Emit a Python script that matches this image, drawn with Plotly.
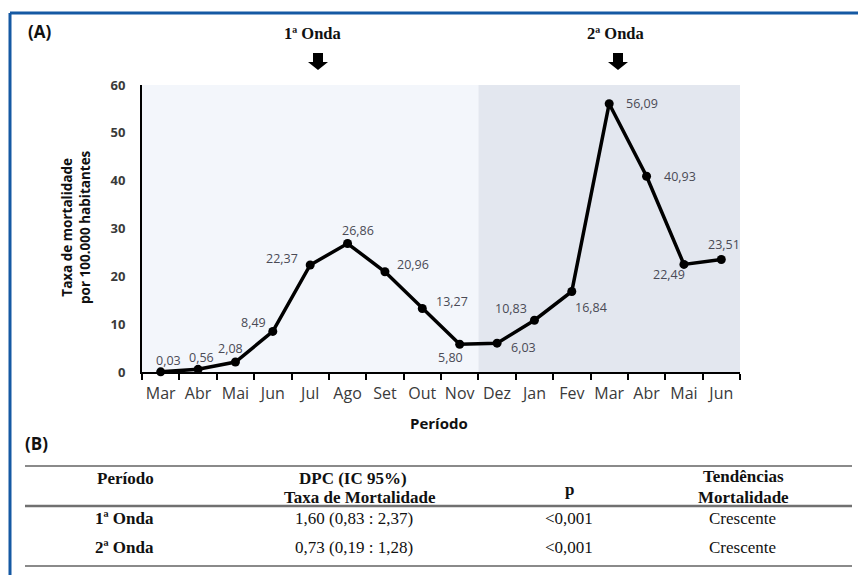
import plotly.graph_objects as go

# Monthly mortality rate per 100,000 inhabitants (Mar/2020 - Jun/2021)
months = ["Mar", "Abr", "Mai", "Jun", "Jul", "Ago", "Set", "Out", "Nov",
          "Dez", "Jan", "Fev", "Mar", "Abr", "Mai", "Jun"]
rates = [0.03, 0.56, 2.08, 8.49, 22.37, 26.86, 20.96, 13.27, 5.80,
         6.03, 10.83, 16.84, 56.09, 40.93, 22.49, 23.51]

# Pixel offsets of each value label relative to its point (dx right, dy down)
label_offsets = [(8, -11), (3, -12), (-5, -14), (-19, -9), (-28, -7), (10, -13),
                 (28, -7), (30, -7), (-9, 13), (26, 4), (-23, -12), (19, 16),
                 (33, 0), (33, 0), (-15, 10), (3, -15)]

# Trend table (joinpoint results)
table_header = ["Período", "DPC (IC 95%)", "p", "Tendências"]
waves = ["1ª Onda", "2ª Onda"]
dpc = ["1,60 (0,83 : 2,37)", "0,73 (0,19 : 1,28)"]
pvals = ["<0,001", "<0,001"]
trends = ["Crescente", "Crescente"]

W, H = 858, 575
L, R, T, B = 142, 740, 85, 372  # plot area in pixels


def px(x):
    return (x - L) / (R - L)


def py(y):
    return (B - y) / (B - T)


xs = list(range(len(months)))
first_wave_end = 8.5

fig = go.Figure()
fig.add_trace(go.Scatter(
    x=xs, y=rates, mode="lines+markers",
    line=dict(color="black", width=3.5),
    marker=dict(color="black", size=9),
    cliponaxis=False, hoverinfo="skip", showlegend=False,
))

shapes = [
    dict(type="rect", xref="x", yref="y", x0=-0.5, x1=first_wave_end, y0=0, y1=60,
         fillcolor="#f3f6fb", line=dict(width=0), layer="below"),
    dict(type="rect", xref="x", yref="y", x0=first_wave_end, x1=len(months) - 0.5, y0=0, y1=60,
         fillcolor="#e3e7ef", line=dict(width=0), layer="below"),
    # outer blue frame (top and left edges)
    dict(type="line", xref="paper", yref="paper", x0=px(10), x1=px(W + 5), y0=py(13), y1=py(13),
         line=dict(color="#1559a3", width=3)),
    dict(type="line", xref="paper", yref="paper", x0=px(10), x1=px(10), y0=py(13), y1=py(H + 5),
         line=dict(color="#1559a3", width=3)),
]

# table rules
for yy, w, c in [(466, 2, "#8a8a8a"), (506, 2.5, "#707070"), (566, 2, "#8a8a8a")]:
    shapes.append(dict(type="line", xref="paper", yref="paper", x0=px(25), x1=px(852),
                       y0=py(yy), y1=py(yy), line=dict(color=c, width=w)))

# down arrows marking the two waves
for xa in [318, 618]:
    shapes.append(dict(type="path", xref="paper", yref="paper",
                       xsizemode="pixel", ysizemode="pixel",
                       xanchor=px(xa), yanchor=py(53),
                       path="M -5,0 L 5,0 L 5,-9 L 10,-9 L 0,-17 L -10,-9 L -5,-9 Z",
                       fillcolor="black", line=dict(width=0)))

annotations = []
label_font = dict(family="Open Sans", size=12.5, color="#4a4a55")
for x, v, (dx, dy) in zip(xs, rates, label_offsets):
    annotations.append(dict(x=x, y=v, xref="x", yref="y", text=f"{v:.2f}".replace(".", ","),
                            showarrow=False, xshift=dx, yshift=-dy, font=label_font))


def note(x, y, text, font, **kw):
    annotations.append(dict(x=px(x), y=py(y), xref="paper", yref="paper", text=text,
                            showarrow=False, font=font, xanchor="center", yanchor="middle", **kw))


panel_font = dict(family="Open Sans", size=17, color="#111111", weight="bold")
serif_bold = dict(family="Liberation Serif", size=16.5, color="#111111", weight="bold")

note(39, 32, "(A)", panel_font)
note(36, 443, "(B)", panel_font)
note(312, 34, "1ª Onda", serif_bold)
note(615, 34, "2ª Onda", serif_bold)
note(439, 423, "Período", dict(family="Open Sans", size=15, color="#111111", weight="bold"))
note(76, 227, "Taxa de mortalidade<br>por 100.000 habitantes",
     dict(family="Open Sans", size=13.5, color="#111111", weight="bold"), textangle=-90)

# table header
th = dict(family="Liberation Serif", size=17, color="#111111", weight="bold")
tb = dict(family="Liberation Serif", size=17, color="#111111")
note(125, 478, table_header[0], th)
note(353, 478, table_header[1], th)
note(360, 497, "Taxa de Mortalidade", th)
note(569, 489, table_header[2], th)
note(743, 477, table_header[3], th)
note(743, 497, "Mortalidade", th)

# table body
for yy, wv, d, p, t in zip([518, 547], waves, dpc, pvals, trends):
    note(124, yy, wv, th)
    note(354, yy, d, tb)
    note(569, yy, p, tb)
    note(742, yy, t, tb)

fig.update_layout(
    width=W, height=H,
    margin=dict(l=L, r=W - R, t=T, b=H - B),
    paper_bgcolor="white", plot_bgcolor="white",
    shapes=shapes, annotations=annotations,
    xaxis=dict(
        range=[-0.5, len(months) - 0.5], tickmode="array", tickvals=xs, ticktext=months,
        ticks="", showgrid=False, zeroline=False,
        showline=True, linecolor="black", linewidth=2,
        tickfont=dict(family="Open Sans", size=16, color="#3a3a3a"),
        ticklabelstandoff=6,
        minor=dict(tickmode="array", tickvals=[i - 0.5 for i in range(len(months) + 1)],
                   ticks="outside", ticklen=6, tickwidth=2, tickcolor="black", showgrid=False),
        fixedrange=True,
    ),
    yaxis=dict(
        range=[0, 60], tickvals=[0, 10, 20, 30, 40, 50, 60], ticks="",
        showgrid=False, zeroline=False,
        showline=True, linecolor="black", linewidth=2,
        tickfont=dict(family="Open Sans", size=13, color="#3a3a3a", weight="bold"),
        ticklabelstandoff=12, fixedrange=True,
    ),
)

fig.write_html("out.html")
